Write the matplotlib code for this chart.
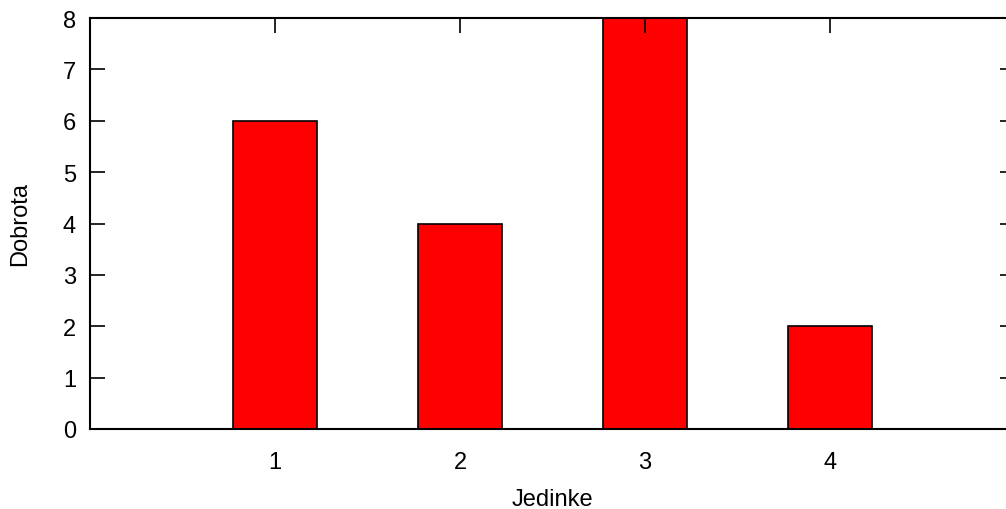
import matplotlib
matplotlib.use("Agg")
import matplotlib.pyplot as plt

# podaci
jedinke = [1, 2, 3, 4]
dobrota = [6, 4, 8, 2]

plt.rcParams['font.family'] = ['Liberation Sans', 'DejaVu Sans']

fig = plt.figure(figsize=(10.06, 5.10), dpi=100)
W, H = 1006, 510
# the right border of the plot sits just past the image edge
ax = fig.add_axes([90 / W, (H - 430) / H, (1015 - 90) / W, (430 - 19) / H])

ax.bar(jedinke, dobrota, width=0.45, color='#ff0000', edgecolor='black', linewidth=1.2, zorder=1)

ax.set_xlim(0, 5)
ax.set_ylim(0, 8)
ax.set_xticks(jedinke)
ax.set_yticks(range(0, 9))
ax.tick_params(direction='in', length=11, width=1.2, labelsize=17, pad=10,
               top=True, right=True)
# bottom tick marks are hidden behind the bars in the original
ax.tick_params(axis='x', bottom=False, pad=15.5)
for s in ax.spines.values():
    s.set_linewidth(1.5)
    s.set_zorder(3)

ax.set_xlabel("Jedinke", fontsize=17, labelpad=11)
ax.set_ylabel("Dobrota", fontsize=17, labelpad=23)

fig.savefig("out.png", dpi=100)
